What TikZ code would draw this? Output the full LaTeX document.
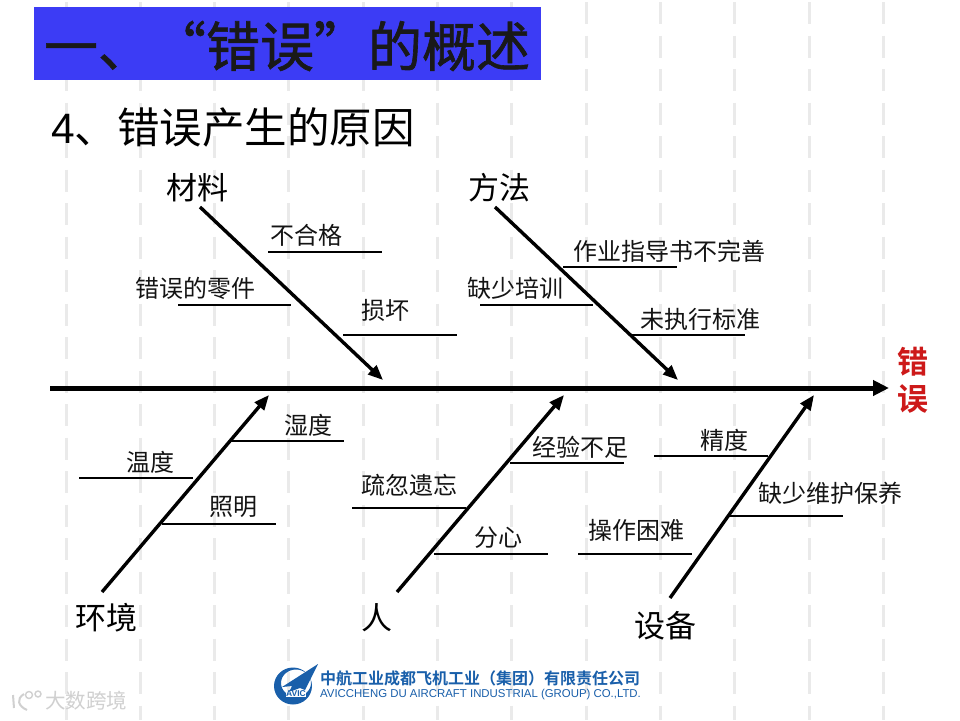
\documentclass[tikz,border=0pt]{standalone}
\usepackage{fontspec}
\setmainfont{Liberation Sans}
\newfontfamily\cjk{Noto Sans CJK SC}
\newfontfamily\cjkt[FakeBold=1.2]{Noto Sans CJK SC}
\newfontfamily\cjkm[BoldFont={Noto Sans CJK SC Bold}]{Noto Sans CJK SC}
\usetikzlibrary{arrows.meta}
\definecolor{gridc}{RGB}{234,234,234}
\definecolor{titleb}{RGB}{60,60,245}
\definecolor{errred}{RGB}{205,25,25}
\definecolor{logob}{RGB}{25,95,170}
\definecolor{wm}{RGB}{208,208,208}
\tikzset{
 gridline/.style={gridc,line width=3pt,dash pattern=on 22pt off 11.5pt},
 spine/.style={line width=5pt,-{Triangle[length=16pt,width=15pt]}},
 bone/.style={line width=3.4pt,-{Triangle[length=15pt,width=12pt]}},
 rib/.style={line width=1.5pt},
 lab/.style={font=\cjk\fontsize{24}{26}\selectfont,inner sep=0pt,text=black!92},
 cat/.style={font=\cjk\fontsize{31}{33}\selectfont,inner sep=0pt,text=black},
}
\begin{document}
\begin{tikzpicture}[x=1pt,y=-1pt]
\useasboundingbox (0,0) rectangle (960,720);
\fill[white] (0,0) rectangle (960,720);
% background grid
\foreach \k in {0,...,11}{
  \draw[gridline] ({66+74.3*\k},2) -- ({66+74.3*\k},720);
}
% title
\node[fill=titleb,minimum width=507pt,minimum height=73pt,inner sep=0pt] (band) at (287.5,43.5) {};
\node[inner sep=0pt,font=\cjkt\fontsize{54}{56}\selectfont,text=black!90] (ttl) at (287,46) {一、“错误”的概述};
\node[inner sep=0pt,anchor=west,font=\fontsize{42.5}{44}\selectfont] (sub) at (51,127) {4{\cjk\fontsize{42.5}{44}\selectfont 、错误产生的原因}};
% spine
\coordinate (s0) at (50,388);
\node[inner sep=0pt,align=center,font=\cjkm\bfseries\fontsize{31}{37}\selectfont,text=errred] (err) at (913,380) {错\\误};
\coordinate (s1) at (889,388);
\draw[spine] (s0) -- (s1);
% upper bones
\node[cat] (cl) at (197,188) {材料};
\node[cat] (mt) at (499,188) {方法};
\coordinate (a0) at (200,207); \coordinate (a1) at (383,380);
\coordinate (b0) at (495,207); \coordinate (b1) at (678,380);
\draw[bone] (a0) -- (a1);
\draw[bone] (b0) -- (b1);
% lower bones
\node[cat] (hj) at (106,618) {环境};
\node[cat] (rn) at (377,618) {人};
\node[cat] (sb) at (665,626) {设备};
\coordinate (c0) at (102,592); \coordinate (c1) at (269,395);
\coordinate (d0) at (397,592); \coordinate (d1) at (564,395);
\coordinate (e0) at (670,598); \coordinate (e1) at (814,395);
\draw[bone] (c0) -- (c1);
\draw[bone] (d0) -- (d1);
\draw[bone] (e0) -- (e1);
% ribs and labels
\foreach \n/\xa/\xb/\y/\tx/\ty/\t in {
 r1/268/382/252/306/235/不合格,
 r2/178/291/305/195/288/错误的零件,
 r3/343/457/335/385/310/损坏,
 r4/563/677/267/669/251/作业指导书不完善,
 r5/480/593/305/515/288/缺少培训,
 r6/630/745/335/700/319/未执行标准,
 r7/230/344/441/308/425/湿度,
 r8/79/193/478/150/462/温度,
 r9/162/276/524/233/507/照明,
 r10/352/466/508/409/485/疏忽遗忘,
 r11/510/624/463/580/447/经验不足,
 r12/434/548/554/498/538/分心,
 r13/654/768/456/724/440/精度,
 r14/578/692/554/636/530/操作困难,
 r15/729/843/516/830/493/缺少维护保养}{
  \coordinate (\n a) at (\xa,\y); \coordinate (\n b) at (\xb,\y);
  \draw[rib] (\n a) -- (\n b);
  \node[lab] (\n t) at (\tx,\ty) {\t};
}
% logo
\fill[logob,even odd rule] (293,686) ellipse [x radius=19pt,y radius=18.5pt] (296,683) ellipse [x radius=15pt,y radius=13.5pt];
\fill[white] (322,662) -- (300,662) -- (322,680) -- cycle;
\fill[logob] (318,664) -- (282,687) -- (292,686) -- (289,692) -- (300,688) -- (305,690) -- cycle;
\node[inner sep=0pt,font=\fontsize{8.5}{9}\selectfont\bfseries,text=logob,fill=white,inner xsep=0.5pt] (av) at (296,694) {AVIC};
\node[inner sep=0pt,anchor=west,font=\cjkm\bfseries\fontsize{16}{18}\selectfont,text=logob] (lc) at (320,678) {中航工业成都飞机工业（集团）有限责任公司};
\node[inner sep=0pt,anchor=west,font=\fontsize{11.4}{13}\selectfont,text=logob] (le) at (320,695) {AVICCHENG DU AIRCRAFT INDUSTRIAL (GROUP) CO.,LTD.};
% watermark
\node[inner sep=0pt,anchor=west,font=\cjk\fontsize{20.5}{22}\selectfont,text=wm] (wmk) at (45,701) {大数跨境};
\draw[wm,line width=2pt] (13,695) -- (14,708) (24,694) .. controls (16,699) and (18,706) .. (27,710);
\draw[wm,line width=1.4pt] (29,695) circle (3.5pt) (38,694) circle (3pt);
\end{tikzpicture}
\end{document}
